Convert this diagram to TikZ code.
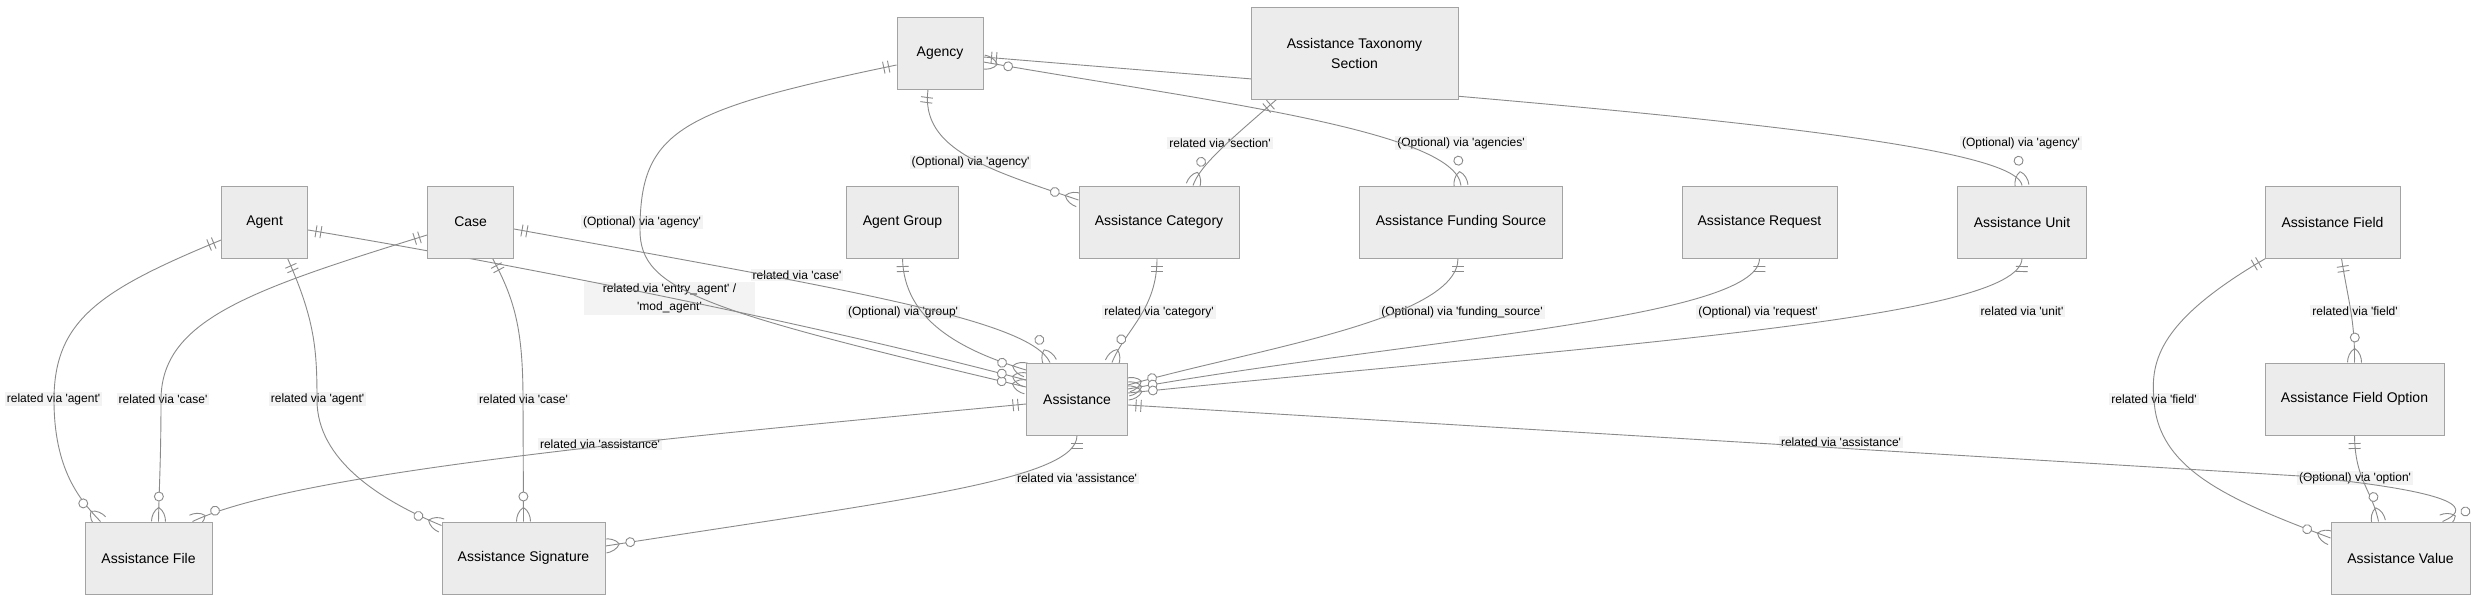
\documentclass[tikz,border=0pt]{standalone}
\usepackage{fontspec}
\setmainfont{Liberation Sans}
\usetikzlibrary{arrows.meta}
\newcommand{\sq}{\textquotesingle}
\definecolor{entfill}{HTML}{ECECEC}
\definecolor{entline}{HTML}{A3A3A3}
\definecolor{edgecol}{HTML}{8A8A8A}
\definecolor{lblfill}{HTML}{F3F3F3}
\pgfdeclarelayer{bglayer}
\pgfdeclarelayer{lbllayer}
\pgfdeclarelayer{edgelayer}
\pgfsetlayers{bglayer,lbllayer,edgelayer,main}

\pgfdeclarearrow{
  name = ZeroMany,
  setup code = {
    \pgfarrowssettipend{0pt}
    \pgfarrowssetlineend{0pt}
    \pgfarrowssetbackend{-30pt}
    \pgfarrowshullpoint{0pt}{7pt}
    \pgfarrowshullpoint{0pt}{-7pt}
    \pgfarrowshullpoint{-30pt}{5pt}
    \pgfarrowshullpoint{-30pt}{-5pt}
  },
  drawing code = {
    \pgfsetdash{}{0pt}
    \pgfpathmoveto{\pgfpoint{-14pt}{0pt}}
    \pgfpathcurveto{\pgfpoint{-11pt}{5pt}}{\pgfpoint{-5pt}{7pt}}{\pgfpoint{0pt}{7pt}}
    \pgfpathmoveto{\pgfpoint{-14pt}{0pt}}
    \pgfpathcurveto{\pgfpoint{-11pt}{-5pt}}{\pgfpoint{-5pt}{-7pt}}{\pgfpoint{0pt}{-7pt}}
    \pgfusepathqstroke
    \pgfsetfillcolor{white}
    \pgfpathcircle{\pgfpoint{-25pt}{0pt}}{4.5pt}
    \pgfusepathqfillstroke
  }
}
\pgfdeclarearrow{
  name = OnlyOne,
  setup code = {
    \pgfarrowssettipend{0pt}
    \pgfarrowssetlineend{0pt}
    \pgfarrowssetbackend{-14pt}
    \pgfarrowshullpoint{0pt}{6pt}
    \pgfarrowshullpoint{-14pt}{-6pt}
  },
  drawing code = {
    \pgfsetdash{}{0pt}
    \pgfpathmoveto{\pgfpoint{-8pt}{6pt}}
    \pgfpathlineto{\pgfpoint{-8pt}{-6pt}}
    \pgfpathmoveto{\pgfpoint{-13pt}{6pt}}
    \pgfpathlineto{\pgfpoint{-13pt}{-6pt}}
    \pgfusepathqstroke
  }
}

\tikzset{
  ent/.style={draw=entline, fill=entfill, line width=1pt, inner sep=0pt,
    minimum height=72pt, font=\fontsize{14}{17}\selectfont, align=center},
  lbl/.style={fill=lblfill, inner xsep=2pt, inner ysep=1.5pt,
    font=\fontsize{12}{14}\selectfont, align=center},
  rel/.style={draw=edgecol, line width=0.9pt, arrows={OnlyOne-ZeroMany}},
  relmm/.style={draw=edgecol, line width=0.9pt, arrows={ZeroMany-ZeroMany}},
}

\begin{document}
\begin{tikzpicture}[x=1pt,y=-1pt]
\useasboundingbox (0,0) rectangle (2484,603);
\begin{pgfonlayer}{bglayer}
\fill[white] (0,0) rectangle (2484,603);
\end{pgfonlayer}

% entities
\node[ent, minimum width=86] (agency) at (940,53) {Agency};
\node[ent, minimum width=207, minimum height=92, font=\fontsize{14}{20}\selectfont] (tax) at (1354.5,53) {Assistance Taxonomy\\Section};
\node[ent, minimum width=86] (agent) at (264.6,222) {Agent};
\node[ent, minimum width=86] (case) at (470.6,222) {Case};
\node[ent, minimum width=112] (group) at (902.5,222) {Agent Group};
\node[ent, minimum width=160] (cat) at (1159,222) {Assistance Category};
\node[ent, minimum width=203] (fund) at (1461,222) {Assistance Funding Source};
\node[ent, minimum width=155] (req) at (1759.5,222) {Assistance Request};
\node[ent, minimum width=129] (unit) at (2022,222) {Assistance Unit};
\node[ent, minimum width=135] (field) at (2332.5,222) {Assistance Field};
\node[ent, minimum width=101] (assist) at (1077,399) {Assistance};
\node[ent, minimum width=179] (fopt) at (2354.5,399) {Assistance Field Option};
\node[ent, minimum width=127] (file) at (148.5,558) {Assistance File};
\node[ent, minimum width=163] (sig) at (523.5,558) {Assistance Signature};
\node[ent, minimum width=139] (value) at (2400.5,558) {Assistance Value};

% labels
\begin{pgfonlayer}{lbllayer}
\node[lbl] (l1) at (642,222) {(Optional) via \sq agency\sq};
\node[lbl, minimum width=171, minimum height=33, font=\fontsize{12}{18}\selectfont] (l2) at (669.5,298.5) {related via \sq entry\_agent\sq\ /\\\sq mod\_agent\sq};
\node[lbl] (l3) at (797,275) {related via \sq case\sq};
\node[lbl] (l4) at (903,312) {(Optional) via \sq group\sq};
\node[lbl] (l5) at (1159,312) {related via \sq category\sq};
\node[lbl] (l6) at (1462,312) {(Optional) via \sq funding\_source\sq};
\node[lbl] (l7) at (1758,312) {(Optional) via \sq request\sq};
\node[lbl] (l8) at (2022,311) {related via \sq unit\sq};
\node[lbl] (l9) at (1841,442) {related via \sq assistance\sq};
\node[lbl] (l10) at (2154,399) {related via \sq field\sq};
\node[lbl] (l11) at (2355,311) {related via \sq field\sq};
\node[lbl] (l12) at (2355,478) {(Optional) via \sq option\sq};
\node[lbl] (l13) at (600,444) {related via \sq assistance\sq};
\node[lbl] (l14) at (1077,478) {related via \sq assistance\sq};
\node[lbl] (l15) at (53.5,399) {related via \sq agent\sq};
\node[lbl] (l16) at (163,399) {related via \sq case\sq};
\node[lbl] (l17) at (317.5,399) {related via \sq agent\sq};
\node[lbl] (l18) at (523.5,399) {related via \sq case\sq};
\node[lbl] (l19) at (970.5,162) {(Optional) via \sq agency\sq};
\node[lbl] (l20) at (1220,143) {related via \sq section\sq};
\node[lbl] (l21) at (2021,143) {(Optional) via \sq agency\sq};
\node[lbl] (l22) at (1461,143) {(Optional) via \sq agencies\sq};
\end{pgfonlayer}

% relations
\begin{pgfonlayer}{edgelayer}
\draw[rel] ([yshift=-12pt]agency.west) .. controls (680,110) and (640,130) .. (640,230)
  .. controls (640,290) and (700,310) .. ([yshift=12pt]assist.west);
\draw[rel] ([yshift=-8pt]agent.east) .. controls (500,262) and (800,320) .. ([yshift=19pt]assist.west);
\draw[rel] ([yshift=-7pt]case.east) .. controls (850,290) and (1030,320) .. ([xshift=-27pt]assist.north);
\draw[rel] (group.south) .. controls (904,320) and (960,350) .. ([yshift=29pt]assist.west);
\draw[rel] ([xshift=-2pt]cat.south) .. controls (1157,310) and (1125,330) .. ([xshift=35pt]assist.north);
\draw[rel] ([xshift=-3pt]fund.south) .. controls (1458,320) and (1250,350) .. ([yshift=14pt]assist.east);
\draw[rel] (req.south) .. controls (1759,320) and (1400,340) .. ([yshift=10pt]assist.east);
\draw[rel] (unit.south) .. controls (2020,320) and (1600,345) .. ([yshift=6pt]assist.east);
\draw[rel] ([yshift=-6pt]assist.east) -- (2300,476) .. controls (2440,490) and (2480,505) .. ([xshift=42pt]value.north);
\draw[rel] ([xshift=1pt]field.south west) .. controls (2160,320) and (2150,360) .. (2154,400)
  .. controls (2158,470) and (2230,500) .. ([yshift=20pt]value.west);
\draw[rel] ([xshift=9pt]field.south) .. controls (2348,300) and (2355,320) .. (fopt.north);
\draw[rel] (fopt.south) .. controls (2355,480) and (2372,490) .. ([xshift=-22pt]value.north);
\draw[rel] ([yshift=-5pt]assist.west) .. controls (700,435) and (300,470) .. ([xshift=44pt]file.north);
\draw[rel] (assist.south) .. controls (1077,480) and (900,500) .. ([yshift=12pt]sig.east);
\draw[rel] ([yshift=-18pt]agent.west) .. controls (100,290) and (54,320) .. (54,400)
  .. controls (54,470) and (80,500) .. ([xshift=-48pt]file.north);
\draw[rel] ([yshift=-13pt]case.west) .. controls (250,290) and (161,320) .. (161,400)
  .. controls (161,460) and (159,490) .. ([xshift=10pt]file.north);
\draw[rel] ([xshift=23pt]agent.south) .. controls (315,320) and (317,350) .. (317,400)
  .. controls (317,460) and (380,500) .. ([yshift=-4pt]sig.north west);
\draw[rel] ([xshift=22pt]case.south) .. controls (515,300) and (523,330) .. (523,400) -- (sig.north);
\draw[rel] ([xshift=-12pt]agency.south) .. controls (920,150) and (990,170) .. ([yshift=22pt]cat.west);
\draw[rel] ([xshift=-78pt]tax.south) .. controls (1230,140) and (1200,165) .. ([xshift=34pt]cat.north);
\draw[rel] ([yshift=-4pt]agency.east) .. controls (1500,100) and (2015,135) .. (unit.north);
\draw[relmm] ([yshift=-9pt]agency.east) .. controls (1200,100) and (1455,130) .. (fund.north);
\end{pgfonlayer}
\end{tikzpicture}
\end{document}
